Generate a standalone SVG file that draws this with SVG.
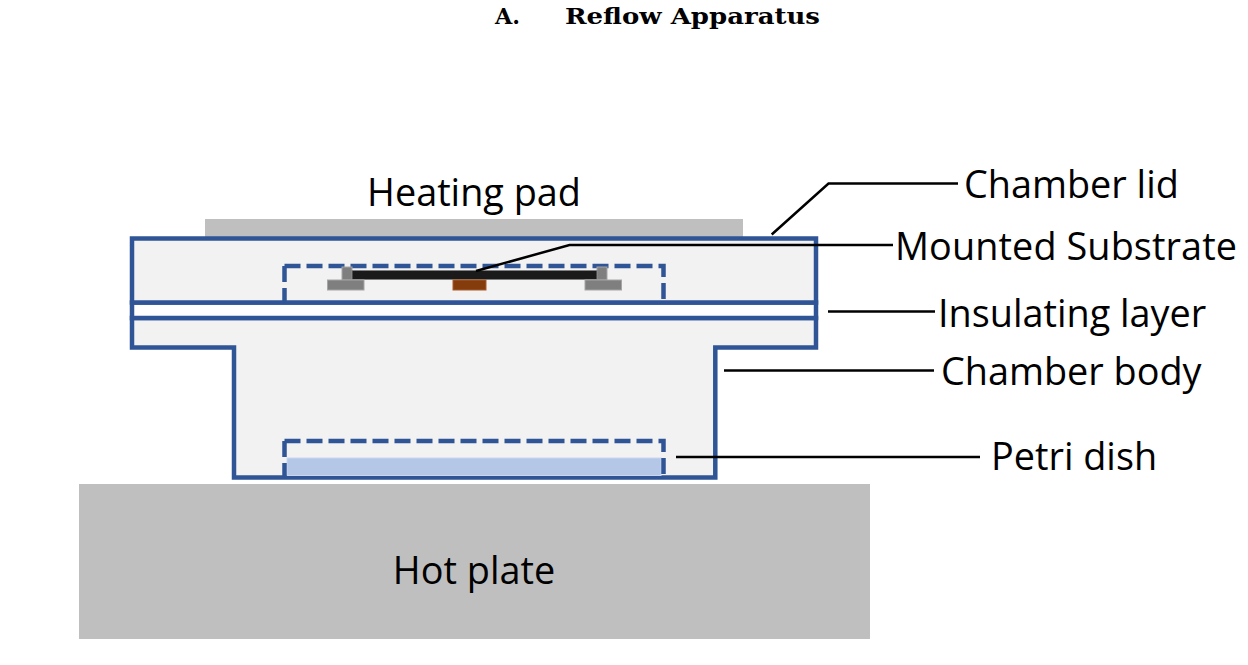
<svg xmlns="http://www.w3.org/2000/svg" width="1248" height="665" viewBox="0 0 1248 665">
<style>
.lbl{font-family:"Open Sans","Noto Sans","Liberation Sans",sans-serif;font-size:37.8px;fill:#000}
.title{font-family:"DejaVu Serif","Liberation Serif",serif;font-weight:bold;font-size:23px;fill:#000}
.wall{fill:#F2F2F2;stroke:#2F5597;stroke-width:4.5;stroke-linejoin:miter}
.dash{fill:none;stroke:#2F5597;stroke-width:4.5;stroke-dasharray:16 6}
.lead{fill:none;stroke:#000;stroke-width:2.5}
</style>
<rect x="0" y="0" width="1248" height="665" fill="#FFFFFF"/>
<g id="title">
<text class="title" x="495" y="24" textLength="25" lengthAdjust="spacingAndGlyphs">A.</text>
<text class="title" x="565" y="24" textLength="255" lengthAdjust="spacingAndGlyphs">Reflow Apparatus</text>
</g>
<g id="hot-plate">
<rect x="79" y="484" width="791" height="155" fill="#BFBFBF"/>
<text class="lbl" x="474" y="584" text-anchor="middle">Hot plate</text>
</g>
<g id="heating-pad">
<rect x="205" y="219" width="538" height="18" fill="#BFBFBF"/>
<text class="lbl" x="474" y="206" text-anchor="middle">Heating pad</text>
</g>
<g id="chamber-body">
<path class="wall" d="M132,318 H816 V347.5 H715.3 V477.5 H234 V347.5 H132 Z"/>
</g>
<g id="insulating-layer">
<rect x="132" y="302.5" width="684" height="15.5" fill="#FFFFFF" stroke="#2F5597" stroke-width="4.5"/>
</g>
<g id="chamber-lid">
<rect class="wall" x="132" y="238.5" width="684" height="64"/>
</g>
<g id="mounted-substrate">
<path class="dash" d="M284.5,266 H663.5 V302.5"/>
<path class="dash" d="M284.5,266 V302.5"/>
<rect x="342" y="267" width="10" height="13" fill="#7F7F7F" stroke="#A6A6A6" stroke-width="1"/>
<rect x="597" y="267" width="10" height="13" fill="#7F7F7F" stroke="#A6A6A6" stroke-width="1"/>
<rect x="352" y="270.5" width="245" height="9" fill="#1A1A1A" stroke="#7F7F7F" stroke-width="1"/>
<rect x="327.5" y="280" width="36.5" height="10" fill="#7F7F7F" stroke="#A6A6A6" stroke-width="1"/>
<rect x="585" y="280" width="36.5" height="10" fill="#7F7F7F" stroke="#A6A6A6" stroke-width="1"/>
<rect x="453" y="280" width="33" height="10" fill="#843C0C" stroke="#A65A2A" stroke-width="1"/>
</g>
<g id="petri-dish">
<rect x="287" y="458" width="374" height="17.5" fill="#B4C7E7" stroke="#C9D6EE" stroke-width="1"/>
<path class="dash" d="M284.5,441 H663.5 V477.5"/>
<path class="dash" d="M284.5,441 V477.5"/>
</g>
<g id="connectors">
<path class="lead" d="M771.7,234.5 L828.5,183.5 H958"/>
<path class="lead" d="M476,271 L569.5,245 H893"/>
<path class="lead" d="M828,311.5 H935"/>
<path class="lead" d="M724,370.5 H934"/>
<path class="lead" d="M676,457 H980"/>
</g>
<g id="labels">
<text class="lbl" x="964" y="198">Chamber lid</text>
<text class="lbl" x="895" y="260" textLength="342" lengthAdjust="spacing">Mounted Substrate</text>
<text class="lbl" x="938" y="326.5">Insulating layer</text>
<text class="lbl" x="941" y="385">Chamber body</text>
<text class="lbl" x="991" y="470">Petri dish</text>
</g>
</svg>
